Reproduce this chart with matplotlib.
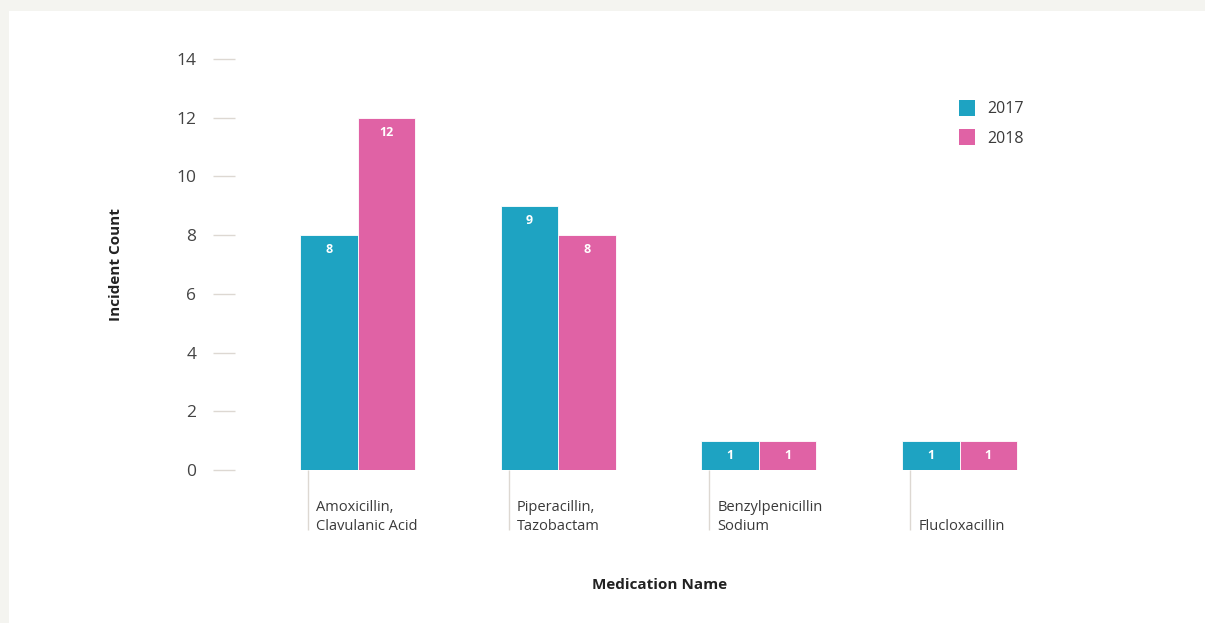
import matplotlib
matplotlib.use("Agg")
import matplotlib.pyplot as plt
import matplotlib.transforms as mtransforms
from matplotlib.patches import Patch
import numpy as np

medications = ["Amoxicillin,\nClavulanic Acid", "Piperacillin,\nTazobactam",
               "Benzylpenicillin\nSodium", "Flucloxacillin"]
years = ["2017", "2018"]
counts_2017 = [8, 9, 1, 1]
counts_2018 = [12, 8, 1, 1]
y_ticks = [0, 2, 4, 6, 8, 10, 12, 14]

C17, C18 = "#1ea3c2", "#e062a5"
BG, PANEL = "#f4f4f0", "#ffffff"
TICK = "#ddd8d2"
plt.rcParams["font.family"] = ["Open Sans", "DejaVu Sans"]

W, H, DPI = 1205, 623, 100
fig = plt.figure(figsize=(W / DPI, H / DPI), dpi=DPI, facecolor=BG)
# white card behind the chart
fig.patches.append(plt.Rectangle((9 / W, 0), 1, 1 - 11 / H, transform=fig.transFigure,
                                 facecolor=PANEL, edgecolor="none", zorder=-10))

L, R, T, B = 235, 1100, 59, 470
ax = fig.add_axes([L / W, 1 - B / H, (R - L) / W, (B - T) / H])
ax.set_facecolor("none")
ax.set_zorder(2)

x = np.arange(len(medications))
bw = 0.286
b17 = ax.bar(x - bw / 2, counts_2017, bw, color=C17, edgecolor="white", lw=0.6, zorder=2)
b18 = ax.bar(x + bw / 2, counts_2018, bw, color=C18, edgecolor="white", lw=0.6, zorder=2)

for bars, vals in ((b17, counts_2017), (b18, counts_2018)):
    for rect, v in zip(bars, vals):
        ax.annotate(str(v), (rect.get_x() + rect.get_width() / 2, v), xytext=(0, -10.5),
                    textcoords="offset points", ha="center", va="center",
                    color="white", fontsize=9, fontweight="bold", zorder=3)

scale = (R - L) / 200.67
x0 = -(357.5 - L) / 200.67
ax.set_xlim(x0, x0 + scale)
ax.set_ylim(0, 14)

for s in ax.spines.values():
    s.set_visible(False)

ax.set_yticks(y_ticks)
ax.tick_params(axis="y", length=22 * 72 / DPI, width=1, color=TICK, pad=12,
               labelsize=12.5, labelcolor="#444444")

# category ticks sit just left of each group with labels hanging beside them
tick_pos = x - 0.247
ax.set_xticks(tick_pos)
ax.set_xticklabels([])
ax.tick_params(axis="x", length=60 * 72 / DPI, width=1, color=TICK)
trans = mtransforms.blended_transform_factory(ax.transData, ax.transAxes)
for p, name in zip(tick_pos, medications):
    ax.annotate(name, (p, 0), xycoords=trans, xytext=(6, -46), textcoords="offset points",
                ha="left", va="bottom", fontsize=10.5, color="#3a3a3a", linespacing=1.32,
                annotation_clip=False)

fig.text(116 / W, 1 - 265 / H, "Incident Count", rotation=90, ha="center", va="center",
         fontsize=11, fontweight="bold", color="#222222")
fig.text(660 / W, 1 - 585 / H, "Medication Name", ha="center", va="center",
         fontsize=11, fontweight="bold", color="#222222")

handles = [Patch(facecolor=C17, label=years[0]), Patch(facecolor=C18, label=years[1])]
fig.legend(handles=handles, loc="upper left", bbox_to_anchor=(959 / W, 1 - 100 / H),
           frameon=False, borderpad=0, borderaxespad=0, fontsize=11.5,
           handlelength=1.0, handleheight=1.15, handletextpad=0.8, labelspacing=0.75,
           labelcolor="#3a3a3a")

fig.savefig("out.png", dpi=DPI, facecolor=BG)
